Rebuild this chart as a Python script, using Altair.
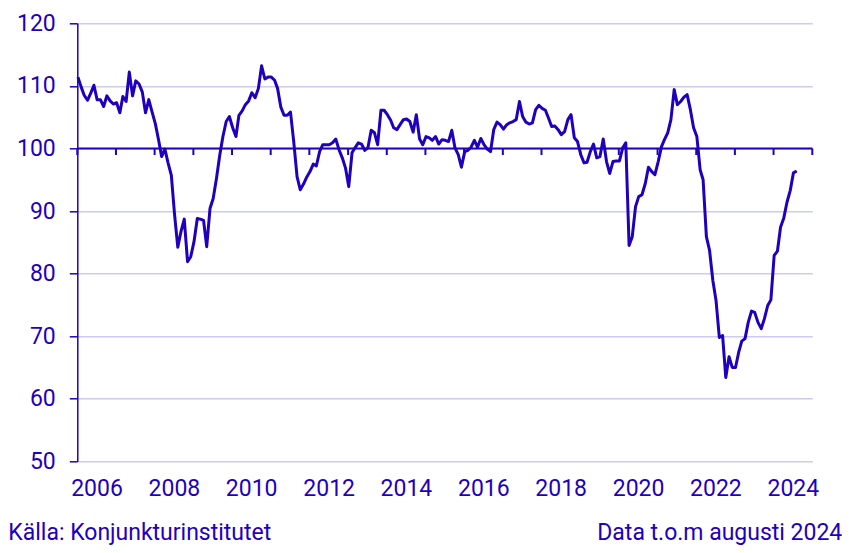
import altair as alt
import pandas as pd

# Monthly index values, Jan 2006 .. Aug 2024
start_month = "2006-01-01"
values = [
    111.4, 109.8, 108.5, 107.7, 108.8, 110.1, 107.8, 107.8, 106.7, 108.4, 107.6, 107.1,  # 2006
    107.3, 105.7, 108.3, 107.5, 112.2, 108.4, 110.8, 110.3, 109.0, 105.7, 107.8, 105.9,  # 2007
    104.0, 101.4, 98.7, 99.9, 97.7, 95.7, 89.5, 84.2, 86.8, 88.7, 81.9, 82.7,  # 2008
    85.1, 88.8, 88.7, 88.5, 84.3, 90.4, 92.0, 95.2, 98.9, 101.9, 104.3, 105.1,  # 2009
    103.3, 101.9, 105.3, 106.0, 107.0, 107.6, 108.9, 108.1, 109.6, 113.2, 111.1, 111.4,  # 2010
    111.4, 110.9, 109.6, 106.6, 105.3, 105.3, 105.8, 101.0, 95.5, 93.4, 94.3, 95.4,  # 2011
    96.3, 97.5, 97.2, 99.5, 100.6, 100.6, 100.6, 100.9, 101.5, 99.8, 98.5, 96.9,  # 2012
    93.9, 99.3, 100.1, 100.9, 100.7, 99.7, 100.1, 102.9, 102.5, 100.6, 106.1, 106.1,  # 2013
    105.4, 104.5, 103.3, 103.0, 103.8, 104.6, 104.7, 104.3, 102.6, 105.4, 101.5, 100.6,  # 2014
    101.9, 101.7, 101.3, 101.9, 100.7, 101.4, 101.3, 101.1, 102.9, 100.1, 99.0, 97.0,  # 2015
    99.5, 99.7, 100.2, 101.3, 100.2, 101.6, 100.6, 99.9, 99.5, 103.0, 104.2, 103.8,  # 2016
    103.1, 103.8, 104.1, 104.3, 104.6, 107.5, 105.1, 104.2, 103.9, 104.1, 106.2, 106.9,  # 2017
    106.4, 106.1, 104.9, 103.5, 103.6, 103.0, 102.2, 102.7, 104.6, 105.4, 101.7, 101.1,  # 2018
    99.0, 97.7, 97.8, 99.5, 100.7, 98.5, 98.7, 101.5, 97.9, 96.0, 97.9, 98.0,  # 2019
    98.0, 100.1, 100.9, 84.5, 85.9, 90.7, 92.3, 92.6, 94.4, 97.0, 96.3, 95.8,  # 2020
    97.9, 100.3, 101.4, 102.5, 104.6, 109.4, 107.0, 107.5, 108.2, 108.6, 106.2, 103.3,  # 2021
    101.9, 96.6, 95.0, 85.9, 83.7, 78.9, 75.7, 69.8, 70.1, 63.4, 66.7, 65.0,  # 2022
    65.0, 67.5, 69.2, 69.6, 72.2, 74.0, 73.8, 72.2, 71.2, 72.8, 74.9, 75.8,  # 2023
    82.9, 83.6, 87.4, 88.9, 91.4, 93.3, 96.1, 96.4,  # 2024
]
label_years = [2006, 2008, 2010, 2012, 2014, 2016, 2018, 2020, 2022, 2024]
tick_years = list(range(2006, 2026))
y_ticks = [50, 60, 70, 80, 90, 100, 110, 120]
source_left = "Källa: Konjunkturinstitutet"
source_right = "Data t.o.m augusti 2024"

dates = pd.date_range(start_month, periods=len(values), freq="MS") + pd.Timedelta(days=6)
df = pd.DataFrame({"date": dates, "value": values})
ticks_df = pd.DataFrame({"date": pd.to_datetime([f"{y}-01-01" for y in tick_years])})
label_vals = [alt.DateTime(year=y, month=7, date=1) for y in label_years]

C = "#1e00be"
GRID = "#cdcbf0"
FONT = "Roboto"
FS = 23

xscale = alt.Scale(domain=[alt.DateTime(year=2006, month=1, date=1),
                           alt.DateTime(year=2025, month=1, date=1)], nice=False)
yscale = alt.Scale(domain=[50, 120], nice=False, zero=False)

xaxis = alt.Axis(values=label_vals, labelExpr="timeFormat(datum.value, '%Y')",
                 ticks=False, tickSize=0, domain=False, grid=False, title=None,
                 labelFont=FONT, labelFontSize=FS, labelColor=C, labelPadding=16,
                 labelAlign="center", labelFlush=False, labelOverlap=False)
yaxis = alt.Axis(values=y_ticks, title=None, tickSize=8, tickColor=C, tickWidth=1.5,
                 domainColor=C, domainWidth=1.5, gridColor=GRID, gridWidth=1.5,
                 labelFont=FONT, labelFontSize=FS, labelColor=C, labelPadding=14)

base_x = alt.X("date:T", scale=xscale, axis=xaxis)

rule100 = alt.Chart(pd.DataFrame({"v": [100]})).mark_rule(color=C, strokeWidth=2).encode(
    y=alt.Y("v:Q", scale=yscale, axis=yaxis)
)

year_ticks = alt.Chart(ticks_df).mark_rule(color=C, strokeWidth=2).encode(
    x=alt.X("date:T", scale=xscale, axis=xaxis),
    y=alt.datum(100),
    y2=alt.datum(98.95),
)

line = alt.Chart(df).mark_line(color=C, strokeWidth=3, strokeJoin="round").encode(
    x=base_x,
    y=alt.Y("value:Q", scale=yscale, axis=yaxis),
)

txt_left = alt.Chart(pd.DataFrame({"t": [source_left]})).mark_text(
    align="left", baseline="alphabetic", font=FONT, fontSize=FS, color=C
).encode(x=alt.value(-69), y=alt.value(517), text="t:N")

txt_right = alt.Chart(pd.DataFrame({"t": [source_right]})).mark_text(
    align="right", baseline="alphabetic", font=FONT, fontSize=FS, color=C
).encode(x=alt.value(765), y=alt.value(517), text="t:N")

chart = alt.layer(rule100, year_ticks, line, txt_left, txt_right).properties(
    width=735, height=438,
    autosize=alt.AutoSizeParams(type="none"),
    padding={"left": 69.3, "top": 15.3, "right": 30, "bottom": 88},
    background="white",
).configure_view(stroke=None)

chart.save("out.html", embed_options={"renderer": "svg", "actions": False})
